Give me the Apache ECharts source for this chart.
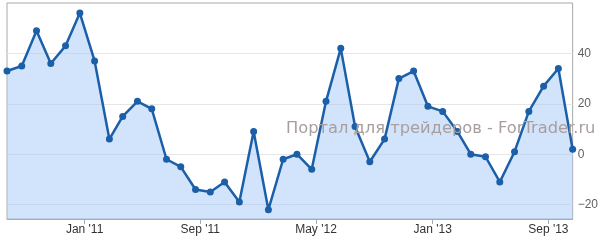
<!DOCTYPE html>
<html><head><meta charset="utf-8">
<script src="https://cdn.jsdelivr.net/npm/echarts@6/dist/echarts.min.js"></script>
<style>html,body{margin:0;padding:0;background:#fff}#c{width:601px;height:240px}</style>
</head><body><div id="c"></div>
<script>
const dates = [
  '2010-07-22','2010-08-22','2010-09-22','2010-10-22','2010-11-22','2010-12-22',
  '2011-01-22','2011-02-22','2011-03-22','2011-04-22','2011-05-22','2011-06-22',
  '2011-07-22','2011-08-22','2011-09-22','2011-10-22','2011-11-22','2011-12-22',
  '2012-01-22','2012-02-22','2012-03-22','2012-04-22','2012-05-22','2012-06-22',
  '2012-07-22','2012-08-22','2012-09-22','2012-10-22','2012-11-22','2012-12-22',
  '2013-01-22','2013-02-22','2013-03-22','2013-04-22','2013-05-22','2013-06-22',
  '2013-07-22','2013-08-22','2013-09-22','2013-10-22'
];
const values = [
  33, 35, 49, 36, 43, 56,
  37, 6, 15, 21, 18, -2,
  -5, -14, -15, -11, -19, 9,
  -22, -2, 0, -6, 21, 42,
  11, -3, 6, 30, 33, 19,
  17, 9, 0, -1, -11, 1,
  17, 27, 34, 2
];
const xTickDates = ['2011-01-01','2011-09-01','2012-05-01','2013-01-01','2013-09-01'];
const xTickLabels = ["Jan '11","Sep '11","May '12","Jan '13","Sep '13"];
const yTickValues = [-20, 0, 20, 40];
const watermark = 'Портал для трейдеров - ForTrader.ru';

const ts = s => +new Date(s + 'T00:00:00');
const xTicks = xTickDates.map(ts);
const seriesData = dates.map((d, i) => [ts(d), values[i]]);

const chart = echarts.init(document.getElementById('c'), null, {renderer: 'canvas'});
chart.setOption({
  animation: false,
  backgroundColor: '#fff',
  grid: {left: 7, right: 27, top: 3, bottom: 21, show: true, borderColor: '#a8a8a8', borderWidth: 1, containLabel: false},
  xAxis: {
    type: 'value',
    min: ts(dates[0]), max: ts(dates[dates.length - 1]),
    axisLine: {show: true, onZero: false, lineStyle: {color: '#a3abba', width: 1}},
    axisTick: {show: true, length: 5, lineStyle: {color: '#a3abba'}, customValues: xTicks},
    axisLabel: {
      customValues: xTicks, margin: 5, color: '#333', fontSize: 12, fontFamily: 'Liberation Sans, Arial, sans-serif',
      formatter: v => { let best = 0; xTicks.forEach((t, i) => { if (Math.abs(t - v) < Math.abs(xTicks[best] - v)) best = i; }); return xTickLabels[best]; }
    },
    splitLine: {show: false}
  },
  yAxis: {
    type: 'value', position: 'right',
    min: -25.7, max: 60,
    axisLine: {show: false},
    axisTick: {show: false, customValues: yTickValues},
    axisLabel: {customValues: yTickValues, margin: 5, color: '#606060', fontSize: 12, fontFamily: 'Liberation Sans, Arial, sans-serif',
      formatter: v => v < 0 ? '\u2212' + Math.abs(v) : String(v)},
    splitLine: {show: true, lineStyle: {color: '#e6e6e6', width: 1}}
  },
  series: [{
    type: 'line',
    data: seriesData,
    symbol: 'circle', symbolSize: 7,
    showSymbol: true,
    itemStyle: {color: '#1b5fa8'},
    lineStyle: {color: '#1b5fa8', width: 2.5},
    areaStyle: {color: 'rgba(168,204,249,0.52)', opacity: 1, origin: 'start'},
    clip: false,
    z: 2
  }],
  graphic: [{
    type: 'text', left: 286, top: 121, z: 10, silent: true,
    style: {text: watermark, fill: '#a89e9e', font: '16.3px "DejaVu Sans", Verdana, sans-serif'}
  }]
});
</script></body></html>
